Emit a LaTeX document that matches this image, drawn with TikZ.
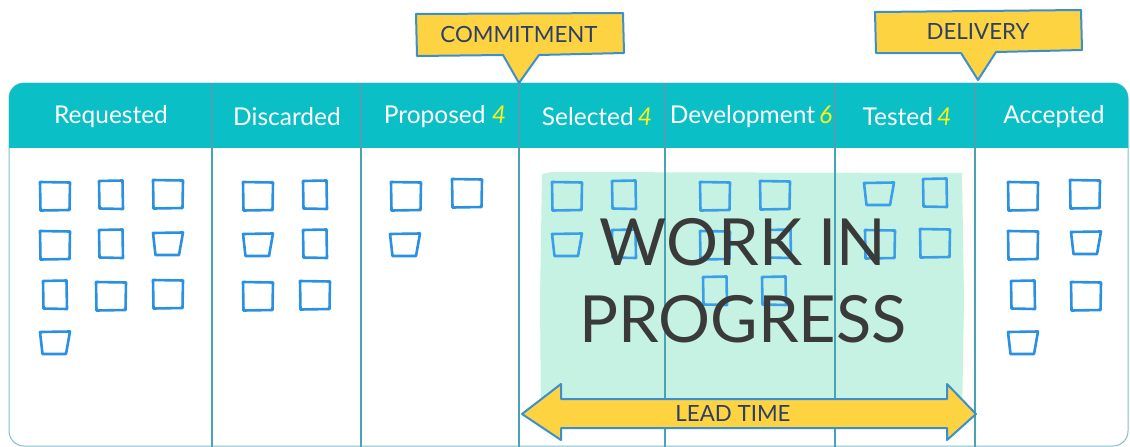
\documentclass[tikz,border=0pt]{standalone}
\usepackage{fontspec}
\setmainfont{Lato}
\definecolor{hdrteal}{HTML}{0BBFC7}
\definecolor{divline}{HTML}{4AA3B3}
\definecolor{cardblue}{HTML}{2A90E2}
\definecolor{cardblue2}{HTML}{3A9FE8}
\definecolor{wipgreen}{HTML}{C6F2E3}
\definecolor{calloutfill}{HTML}{FDD342}
\definecolor{calloutline}{HTML}{3B8FCF}
\definecolor{callouttext}{HTML}{2E3F66}
\definecolor{limitcol}{HTML}{FAF214}
\definecolor{wiptext}{HTML}{3A3A3A}
\tikzset{
  hdrlabel/.style={text=white,font=\fontsize{24.5}{28}\selectfont,inner sep=0pt,anchor=center},
  divider/.style={draw=divline,line width=1.4pt},
  cardline/.style={draw=cardblue,line width=2.6pt,line join=round,line cap=round},
  wipcard/.style={cardline/.append style={draw=cardblue2}},
  calloutshape/.style={fill=calloutfill,draw=calloutline,line width=2pt,line join=round},
  callouttxt/.style={text=callouttext,font=\fontsize{22.3}{25}\selectfont,inner sep=0pt},
  cardsq/.pic={\draw[cardline] (-15,-14) -- (15,-13.5) -- (14.5,14) -- (-14.5,14.5) -- cycle;},
  cardnr/.pic={\draw[cardline] (-12,-14) -- (11.5,-14.5) -- (12,14) -- (-11.5,13.5) -- cycle;},
  cardtr/.pic={\draw[cardline] (-15,-11) -- (15,-11.5) -- (11,11) -- (-12.5,11) -- cycle;}
}
\begin{document}
\begin{tikzpicture}[x=1pt,y=-1pt]
\useasboundingbox (0,0) rectangle (1130,447);
% board
\draw[draw=divline!70,line width=1pt,fill=white,rounded corners=15] (9,83) rectangle (1128,446);
\begin{scope}
  \clip (0,0) rectangle (1130,147);
  \fill[hdrteal,rounded corners=15] (9,83) rectangle (1128,220);
\end{scope}
% WIP area
\fill[wipgreen] (542,174) -- (552,172) -- (962,173) -- (964,300) -- (962,420) -- (541,420) -- (540,300) -- cycle;
% column dividers
\foreach \x/\n in {212/a,361/b,519/c,665/d,835/e,975/f}{
  \coordinate (top\n) at (\x,83);
  \coordinate (bot\n) at (\x,447);
  \draw[divider] (top\n) -- (bot\n);
}
% header labels
\node[hdrlabel] (hReq) at (111,117) {Requested};
\node[hdrlabel] (hDis) at (287,117) {Discarded};
\node[hdrlabel] (hPro) at (445,117) {Proposed \textcolor{limitcol}{\itshape 4}};
\node[hdrlabel] (hSel) at (597,117) {Selected\,\textcolor{limitcol}{\itshape 4}};
\node[hdrlabel] (hDev) at (751,117) {Development\,\textcolor{limitcol}{\itshape 6}};
\node[hdrlabel] (hTes) at (907,117) {Tested\,\textcolor{limitcol}{\itshape 4}};
\node[hdrlabel] (hAcc) at (1054,117) {Accepted};
% cards: requested
\pic at (55,196) {cardsq};
\pic at (111,195) {cardnr};
\pic at (168,194) {cardsq};
\pic at (55,245) {cardsq};
\pic at (111,244) {cardnr};
\pic at (168,244) {cardtr};
\pic at (55,295) {cardnr};
\pic at (111,296) {cardsq};
\pic at (168,294) {cardsq};
\pic at (55,343) {cardtr};
% discarded
\pic at (258,196) {cardsq};
\pic at (315,195) {cardnr};
\pic at (258,245) {cardtr};
\pic at (315,244) {cardnr};
\pic at (258,296) {cardsq};
\pic at (315,295) {cardsq};
% proposed
\pic at (406,196) {cardsq};
\pic at (467,193) {cardsq};
\pic at (405,245) {cardtr};
\begin{scope}[wipcard]
% selected
\pic at (567,196) {cardsq};
\pic at (624,195) {cardnr};
\pic at (567,245) {cardtr};
\pic at (624,244) {cardnr};
% development
\pic at (715,196) {cardsq};
\pic at (775,195) {cardsq};
\pic at (715,245) {cardsq};
\pic at (779,244) {cardnr};
\pic at (715,291) {cardnr};
\pic at (774,291) {cardnr};
% tested
\pic at (879,194) {cardtr};
\pic at (935,193) {cardnr};
\pic at (880,244) {cardsq};
\pic at (935,243) {cardsq};
\end{scope}
% accepted
\pic at (1023,196) {cardsq};
\pic at (1085,194) {cardsq};
\pic at (1023,245) {cardsq};
\pic at (1086,243) {cardtr};
\pic at (1023,295) {cardnr};
\pic at (1086,296) {cardsq};
\pic at (1023,343) {cardtr};
% WIP text
\node[text=wiptext,font=\fontsize{65}{77}\selectfont,align=center,inner sep=0pt] (wip) at (743,281) {WORK\hspace{16pt}IN\\PROGRESS};
% lead time arrow
\filldraw[calloutshape] (522,414) -- (561,384) -- (561,399) -- (947,399) -- (947,384) -- (976,414) -- (947,440) -- (947,428) -- (561,428) -- (561,440) -- cycle;
\node[callouttxt] (lead) at (733,414) {LEAD TIME};
% callouts
\filldraw[calloutshape] (416,14) -- (623,13) -- (624,53) -- (539,55) -- (519,83) -- (503,55) -- (417,56) -- cycle;
\node[callouttxt] (commit) at (519,35) {COMMITMENT};
\filldraw[calloutshape] (875,12) -- (1081,10) -- (1082,50) -- (996,52) -- (978,80) -- (961,53) -- (876,53) -- cycle;
\node[callouttxt] (deliv) at (978,32) {DELIVERY};
\end{tikzpicture}
\end{document}
